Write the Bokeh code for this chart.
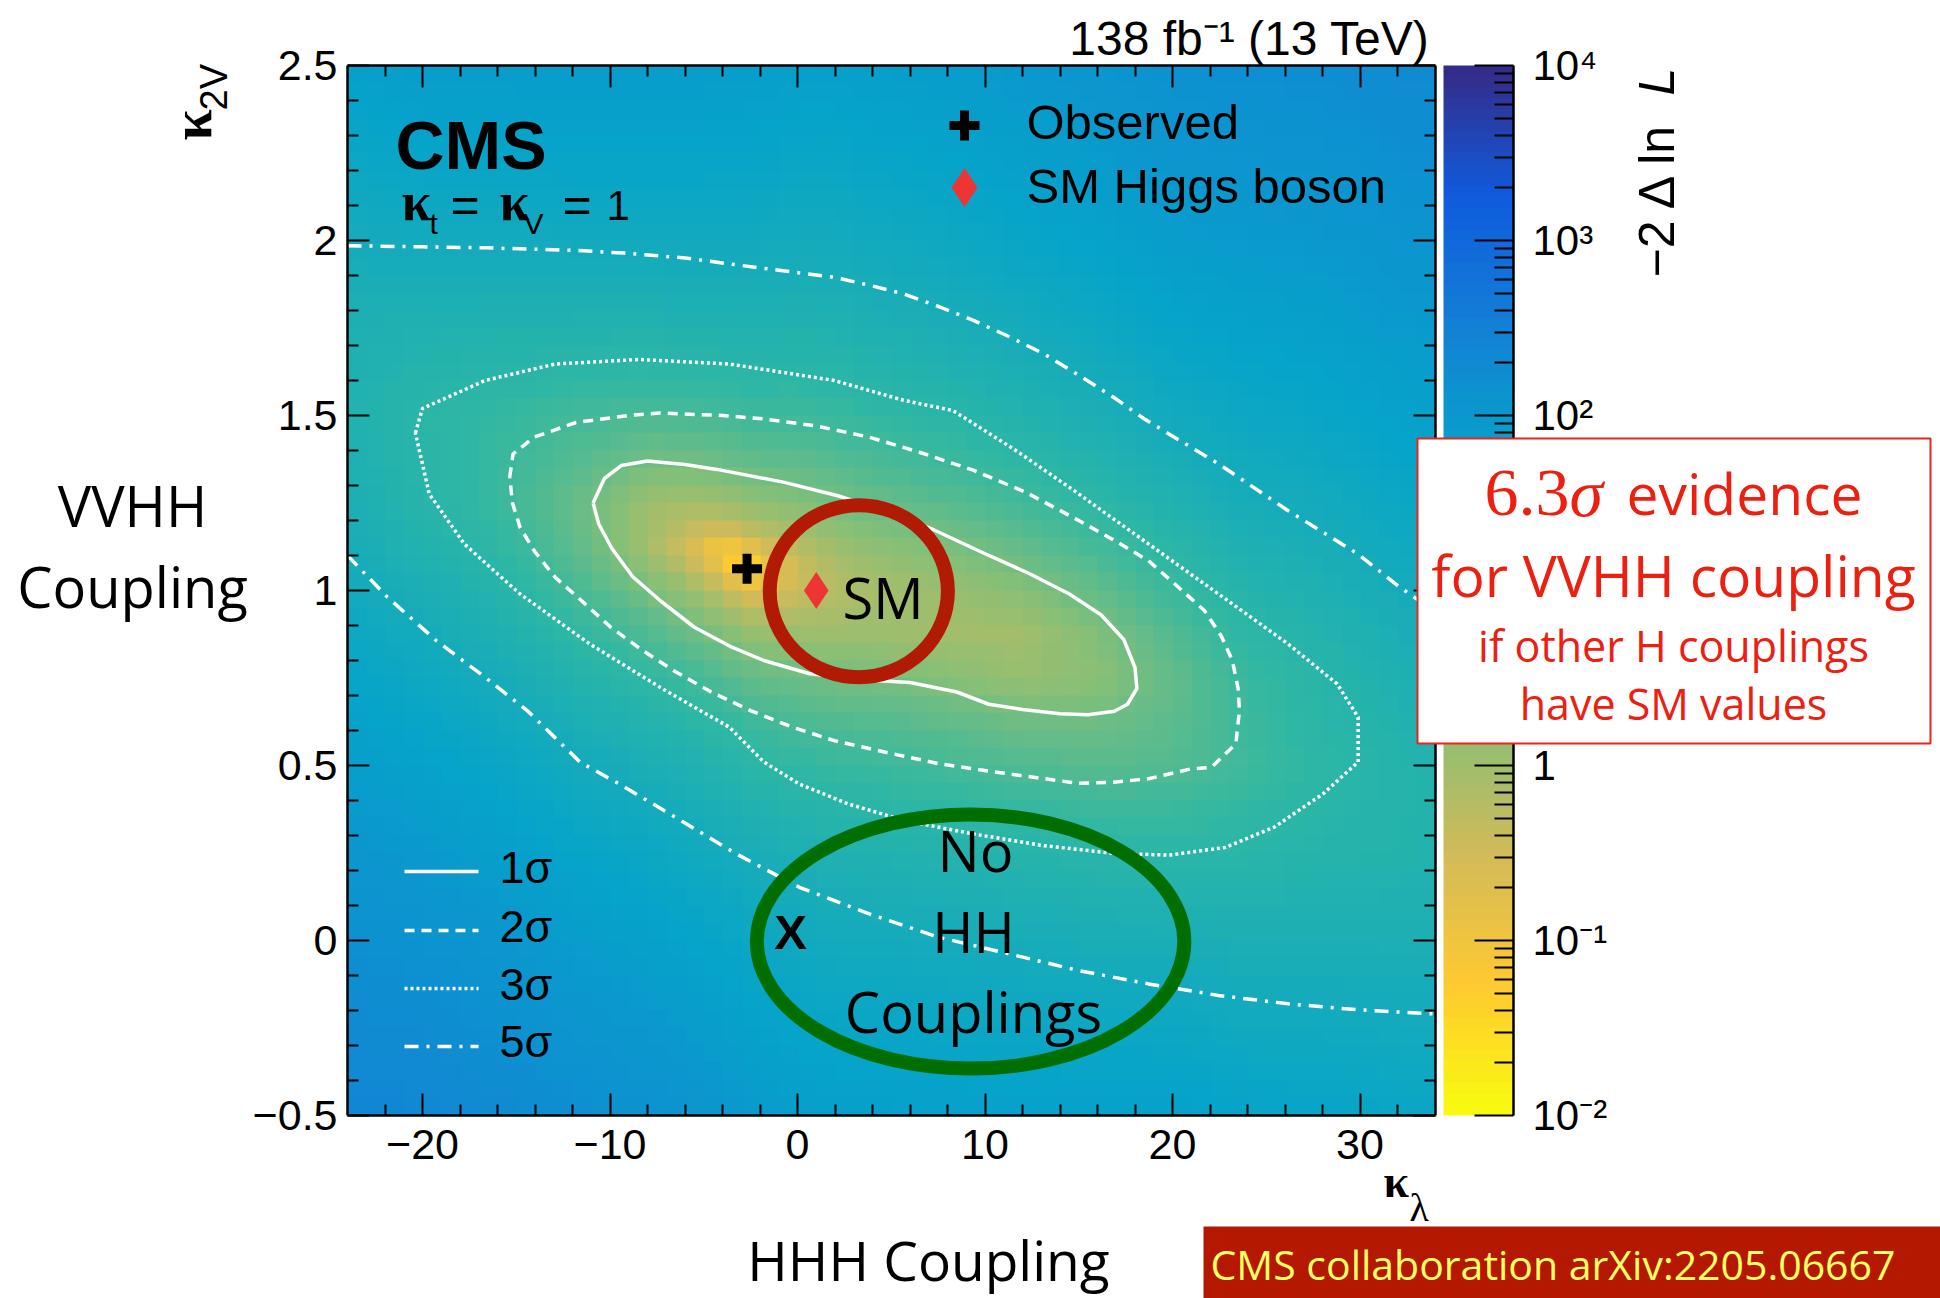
import numpy as np
from bokeh.plotting import figure
from bokeh.models import Range1d, LinearAxis, FixedTicker, CustomJSTickFormatter, LogColorMapper
from bokeh.core.properties import value
from bokeh.embed import file_html
from bokeh.resources import INLINE

# ---------------- data ----------------
kl_nodes = [-24, -20, -16, -12, -8, -6, -4, -3, -2, 0, 2, 4, 8, 12, 16, 20, 24, 28, 32, 36]
k2v_nodes = [-0.5, -0.25, 0, 0.25, 0.5, 0.75, 0.875, 1.0, 1.0625, 1.125, 1.25, 1.5, 1.75, 2.0, 2.25, 2.5]
nll_by_column = [
    [242, 190, 145, 107, 75, 51, 41, 33, 29, 26, 21.5, 17.1, 19.4, 28.4, 44, 67],
    [228, 175, 130, 92, 61, 38, 29, 22, 19, 16, 13, 11.7, 17.7, 31, 52, 80],
    [192, 145, 105, 72, 46, 26.5, 19.4, 13.9, 11.8, 10.1, 8.0, 9.0, 16.7, 31.3, 52.6, 81],
    [155, 114, 80, 52, 31, 15.3, 10, 6.2, 4.9, 4.0, 3.3, 6.7, 16.3, 32.2, 54.3, 82.7],
    [133, 97, 66, 41.5, 22.5, 9.5, 5.2, 2.3, 1.45, 0.94, 1.03, 5.6, 16.1, 32.4, 54.6, 82.7],
    [119, 85, 57.5, 35, 18.3, 7.0, 3.4, 1.16, 0.56, 0.31, 0.83, 6.0, 16.7, 32.8, 54.5, 81.7],
    [102, 73, 48.5, 29, 14.5, 4.95, 2.07, 0.45, 0.106, 0.075, 0.95, 6.45, 17, 32.5, 53, 78.5],
    [94, 66, 43.5, 25.6, 12.4, 3.9, 1.45, 0.2, 0.012, 0.125, 1.24, 7.0, 17.6, 32.9, 52.9, 77.7],
    [86.5, 61, 39.7, 23.1, 10.9, 3.3, 1.15, 0.14, 0.05, 0.25, 1.49, 7.3, 17.7, 32.5, 51.9, 75.7],
    [75.7, 53, 34.6, 20, 9.5, 2.9, 1.12, 0.34, 0.32, 0.56, 1.78, 7.2, 16.7, 30.1, 47.5, 69],
    [68, 47.5, 30.6, 17.5, 8.1, 2.5, 1.07, 0.6, 0.72, 1.07, 2.5, 8.1, 17.5, 30.6, 47.5, 68],
    [68, 47.3, 30.3, 17.1, 7.8, 2.4, 1.11, 0.82, 1.04, 1.5, 3.1, 9.3, 19.4, 33.4, 51.2, 72.9],
    [65, 44.3, 27.7, 15.1, 6.4, 1.77, 0.95, 1.13, 1.6, 2.3, 4.5, 11.9, 23.2, 38.6, 57.9, 81.3],
    [64.2, 42.9, 25.9, 13.3, 5.1, 1.22, 0.93, 1.74, 2.56, 3.64, 6.64, 15.9, 29.6, 47.6, 70, 96.8],
    [63, 41, 24, 11.9, 4.4, 1.6, 2.0, 3.6, 4.85, 6.4, 10.4, 21.9, 38.1, 59.1, 84.8, 115],
    [63, 40.5, 23.2, 11.3, 4.7, 3.5, 4.9, 7.7, 9.6, 11.8, 17.3, 32.2, 52.5, 78.2, 109, 146],
    [53.7, 34.6, 21.1, 11.9, 7.3, 8.3, 10.7, 14.4, 16.8, 19.5, 25.9, 40.9, 61.8, 87.6, 118.6, 154],
    [52, 34.3, 21.6, 13.7, 10.6, 12.5, 15.2, 19.2, 21.7, 24.4, 30.8, 47.3, 68.6, 95, 126, 162],
    [47, 31.4, 20.7, 15, 14.3, 18.6, 22.6, 27.9, 31, 34.4, 42.2, 61.5, 85.8, 115, 149, 189],
    [46, 31.4, 21.9, 17.4, 17.9, 23.4, 28, 33.9, 37.3, 41, 49.4, 69.9, 95.4, 126, 161, 202],
]

observed = [-2.69, 1.062]
sm_point = [1.0, 1.0]

c1_x = [-10.9, -10.3, -9.4, -8.0, -6.0, -4.3, -0.7, 2.2, 5.0, 7.2, 9.8, 12.3, 14.5, 16.2, 17.4, 18.0, 18.1,
        17.6, 16.9, 15.5, 14.0, 12.0, 10.2, 8.5, 6.0, 3.4, 0.6, -1.8, -3.5, -5.5, -7.3, -8.8, -9.9, -10.6, -10.9]
c1_y = [1.25, 1.32, 1.357, 1.37, 1.36, 1.346, 1.309, 1.27, 1.22, 1.175, 1.11, 1.05, 0.99, 0.93, 0.86, 0.78, 0.72,
        0.675, 0.655, 0.645, 0.648, 0.66, 0.675, 0.71, 0.737, 0.745, 0.763, 0.80, 0.838, 0.895, 0.97, 1.04, 1.12, 1.19, 1.25]
c2_x = [-15.35, -15.17, -14.05, -11.82, -9.0, -7.35, -4.0, -1.76, 1.0, 3.83, 6.5, 9.41, 12.2, 15.0, 17.0, 18.72,
        20.3, 21.7, 22.6, 23.19, 23.5, 23.57, 23.38, 22.08, 20.96, 18.72, 16.8, 15.0, 13.2, 11.27, 9.4, 7.55, 4.7,
        1.96, -0.3, -2.51, -4.6, -6.6, -8.3, -9.96, -11.5, -12.93, -14.0, -14.8, -15.2, -15.35]
c2_y = [1.324, 1.39, 1.438, 1.48, 1.50, 1.507, 1.50, 1.49, 1.47, 1.438, 1.395, 1.343, 1.28, 1.20, 1.14, 1.085,
        1.01, 0.943, 0.87, 0.80, 0.72, 0.657, 0.562, 0.495, 0.49, 0.462, 0.452, 0.449, 0.462, 0.476, 0.49, 0.505, 0.538,
        0.571, 0.61, 0.657, 0.71, 0.771, 0.83, 0.895, 0.97, 1.038, 1.11, 1.181, 1.25, 1.324]
c3_x = [-20.38, -20.0, -16.66, -12.93, -8.46, -3.62, 1.96, 5.69, 8.3, 11.65, 15.0, 18.72, 22.45, 26.17, 28.78,
        29.9, 29.9, 28.03, 25.43, 22.82, 19.84, 16.86, 13.14, 9.41, 5.69, 2.71, 0.1, -1.8, -3.62, -7.35, -11.07,
        -14.8, -17.77, -19.64, -20.38]
c3_y = [1.45, 1.52, 1.60, 1.647, 1.66, 1.647, 1.60, 1.543, 1.514, 1.40, 1.276, 1.133, 0.99, 0.847, 0.733,
        0.638, 0.51, 0.419, 0.324, 0.266, 0.244, 0.249, 0.271, 0.304, 0.343, 0.39, 0.447, 0.51, 0.609, 0.724, 0.847,
        0.99, 1.133, 1.276, 1.45]
c5u_x = [-24, -20, -16.66, -12, -9.21, -6, -3.62, -1, 1.96, 4, 5.69, 7.6, 9.41, 11.3, 13.14, 15.0, 16.86, 18.5,
         22.45, 26.17, 29.9, 32.13, 34]
c5u_y = [1.985, 1.982, 1.979, 1.972, 1.964, 1.95, 1.933, 1.915, 1.895, 1.87, 1.847, 1.81, 1.771, 1.725, 1.676,
         1.615, 1.552, 1.49, 1.362, 1.228, 1.104, 1.009, 0.94]
c5l_x = [-24, -21.87, -19.27, -16.66, -14.42, -11.6, -9.21, -6.23, -3.25, 0.1, 3.83, 7.55, 11.27, 15.0, 18.72,
         22.45, 26.17, 29.9, 34]
c5l_y = [1.10, 0.981, 0.857, 0.752, 0.657, 0.51, 0.438, 0.343, 0.247, 0.152, 0.076, 0.009, -0.038, -0.086,
         -0.124, -0.157, -0.181, -0.198, -0.21]

x_major = [-20, -10, 0, 10, 20, 30]
x_minor = [-22, -18, -16, -14, -12, -8, -6, -4, -2, 2, 4, 6, 8, 12, 14, 16, 18, 22, 24, 26, 28, 32]
y_major = [-0.5, 0, 0.5, 1, 1.5, 2, 2.5]
y_minor = [-0.4, -0.3, -0.2, -0.1, 0.1, 0.2, 0.3, 0.4, 0.6, 0.7, 0.8, 0.9, 1.1, 1.2, 1.3, 1.4,
           1.6, 1.7, 1.8, 1.9, 2.1, 2.2, 2.3, 2.4]
cb_exponents = [-2, -1, 0, 1, 2, 3, 4]

sm_ring = [3.27, 0.998, 9.5, 0.491]
no_hh_ring = [9.23, -0.003, 22.8, 0.726]

# ---------------- page geometry ----------------
W, H = 1940, 1298
def X(px):
    return -24 + (px - 347) / 18.75
def Y(py):
    return 2.5 - (py - 65) / 350.0
def CB(py):
    return 4 - (py - 65) / 175.0

p = figure(width=W, height=H, x_range=Range1d(X(0), X(W)), y_range=Range1d(Y(H), Y(0)),
           x_axis_location=None, y_axis_location=None, toolbar_location=None, output_backend="svg",
           min_border=0, outline_line_color=None, background_fill_color="white", border_fill_color="white")
p.extra_y_ranges = {"cb": Range1d(CB(H), CB(0))}
for g in p.grid:
    g.visible = False

bird_r = [0.2082, 0.0592, 0.0780, 0.0232, 0.1802, 0.5301, 0.8186, 0.9956, 0.9764]
bird_g = [0.1664, 0.3599, 0.5041, 0.6419, 0.7178, 0.7492, 0.7328, 0.7862, 0.9832]
bird_b = [0.5293, 0.8684, 0.8385, 0.7914, 0.6425, 0.4662, 0.3499, 0.1968, 0.0539]
stops = np.linspace(0, 1, 9)
pal = []
for v in np.linspace(0, 1, 255):
    rgb = [int(round(255 * np.interp(v, stops, c))) for c in (bird_r, bird_g, bird_b)]
    pal.append("#%02x%02x%02x" % tuple(rgb))
pal = pal[::-1]
mapper = LogColorMapper(palette=pal, low=0.01, high=1e4)

xn = np.array(kl_nodes, float)
yn = np.array(k2v_nodes, float)
S = np.sqrt(np.array(nll_by_column, float))
xc = -23.5 + np.arange(58) * 1.0
yc = -0.475 + np.arange(60) * 0.05
tmp = np.array([np.interp(yc, yn, S[i]) for i in range(len(xn))])
fine = np.array([np.interp(xc, xn, tmp[:, j]) for j in range(len(yc))])
img = np.clip(fine ** 2, 0.0101, 9999.0)
p.image(image=[img], x=-24, y=-0.5, dw=58, dh=3, color_mapper=mapper)

N = 96
cb_img = (10 ** (-2 + (np.arange(N) + 0.5) * 6.0 / N)).reshape(N, 1)
p.image(image=[cb_img], x=X(1443), y=-2, dw=X(1513) - X(1443), dh=6, y_range_name="cb", color_mapper=mapper)

p.line(c1_x, c1_y, line_color="white", line_width=3.5)
p.line(c2_x, c2_y, line_color="white", line_width=3.5, line_dash="10 7")
p.line(c3_x, c3_y, line_color="white", line_width=3.5, line_dash="3 3")
p.line(c5u_x, c5u_y, line_color="white", line_width=3.5, line_dash="14 8 3 8")
p.line(c5l_x, c5l_y, line_color="white", line_width=3.5, line_dash="14 8 3 8")

p.scatter([observed[0]], [observed[1]], marker="cross", size=30, line_color="black", line_width=9)
p.scatter([sm_point[0]], [sm_point[1]], marker="diamond", size=37, fill_color="#EE3535", line_color=None)

minus_code = "return tick < 0 ? '\u2212' + String(-tick) : String(tick);"
blank_code = "return '';"

def make_axis(loc, bounds, ticks, minors, code, tin, tmin, standoff=8, yname=None, size="43px"):
    kw = dict(fixed_location=loc, bounds=bounds,
              ticker=FixedTicker(ticks=ticks, minor_ticks=minors),
              formatter=CustomJSTickFormatter(code=code),
              major_tick_in=tin, major_tick_out=0, minor_tick_in=tmin, minor_tick_out=0,
              axis_line_width=2.5, axis_line_color="black", major_tick_line_width=2, minor_tick_line_width=2,
              major_label_text_font="Liberation Sans", major_label_text_font_size=size,
              major_label_text_color="black", major_label_standoff=standoff)
    if yname:
        kw["y_range_name"] = yname
    return LinearAxis(**kw)

p.add_layout(make_axis(-0.5, (-24, 34), x_major, x_minor, minus_code, 22, 11, standoff=14), "below")
p.add_layout(make_axis(2.5, (-24, 34), x_major, x_minor, blank_code, 22, 11, standoff=0), "above")
p.add_layout(make_axis(-24, (-0.5, 2.5), y_major, y_minor, minus_code, 22, 11, standoff=10), "left")
p.add_layout(make_axis(34, (-0.5, 2.5), y_major, y_minor, blank_code, 22, 11, standoff=0), "right")

cb_minor = [float(np.log10(k) + d) for d in range(-2, 4) for k in range(2, 10)]
cb_code = """
const t = Math.round(tick);
const sup = {'-2': '\u207b\u00b2', '-1': '\u207b\u00b9', '2': '\u00b2', '3': '\u00b3', '4': '\u2074'};
if (t === 0) return '1';
if (t === 1) return '10';
return '10' + sup[String(t)];
"""
p.add_layout(make_axis(X(1513), (-2, 4), cb_exponents, cb_minor, cb_code, 39, 19, standoff=19, yname="cb",
                       size="42px"), "right")

p.ellipse(x=[sm_ring[0]], y=[sm_ring[1]], width=[sm_ring[2]], height=[sm_ring[3]],
          fill_color=None, line_color="#B11A05", line_width=14)
p.ellipse(x=[no_hh_ring[0]], y=[no_hh_ring[1]], width=[no_hh_ring[2]], height=[no_hh_ring[3]],
          fill_color=None, line_color="#006E00", line_width=14)

SERIF = "Liberation Serif"
SANS = "Liberation Sans"
OS = "Open Sans"
R90 = np.pi / 2
# distance from the alphabetic baseline to the centre of each font's ascent/descent box (in em)
MID = {SANS: 0.3465, OS: 0.388, SERIF: 0.3375}

def txt(px, py, s, size, font=SANS, align="left", color="black", style="normal", rot=False, level="glyph"):
    """px, py: page position of the start (or centre) of the text on its baseline."""
    shift = MID[font] * size
    if rot:
        ax, ay, ang = X(px - shift), Y(py), R90
    else:
        ax, ay, ang = X(px), Y(py - shift), 0.0
    return p.text(x=[ax], y=[ay], text=[s], text_font=value(font), text_font_size="%dpx" % size,
                  text_align=align, text_baseline="middle", text_color=color, text_font_style=style,
                  angle=ang, level=level)

txt(1429, 55, "138 fb\u207b\u00b9 (13 TeV)", 48, align="right")
txt(395, 168, "CMS", 68, style="bold")
txt(401, 220, "\u03ba", 54, font=SERIF, style="bold")
txt(429, 233, "t", 30)
txt(450, 222, "=", 50)
txt(499, 220, "\u03ba", 54, font=SERIF, style="bold")
txt(523, 233, "V", 30)
txt(562, 222, "=", 50)
txt(606, 220, "1", 42)

p.line([X(404), X(478)], [Y(871), Y(871)], line_color="white", line_width=3.5)
p.line([X(404), X(478)], [Y(930), Y(930)], line_color="white", line_width=3.5, line_dash="10 7")
p.line([X(404), X(478)], [Y(988), Y(988)], line_color="white", line_width=3.5, line_dash="3 3")
p.line([X(404), X(478)], [Y(1046), Y(1046)], line_color="white", line_width=3.5, line_dash="14 8 3 8")
txt(499, 883, "1\u03c3", 45)
txt(499, 942, "2\u03c3", 45)
txt(499, 1000, "3\u03c3", 45)
txt(499, 1057, "5\u03c3", 45)

p.scatter([X(964)], [Y(125)], marker="cross", size=30, line_color="black", line_width=9)
p.scatter([X(964)], [Y(187)], marker="diamond", size=39, fill_color="#EE3535", line_color=None)
txt(1026, 138, "Observed", 49)
txt(1026, 202, "SM Higgs boson", 49)

txt(1383, 1197, "\u03ba", 46, font=SERIF, style="bold")
txt(1409, 1220, "\u03bb", 40, font=SERIF)
txt(210, 140, "\u03ba", 56, font=SERIF, style="bold", rot=True)
txt(227, 110, "2V", 38, rot=True)
txt(1674, 277, "\u22122 \u0394 ln", 50, rot=True)
txt(1674, 95, "L", 50, style="italic", rot=True)

txt(132, 526, "VVHH", 56, font=OS, align="center")
txt(132, 607, "Coupling", 56, font=OS, align="center")
txt(928, 1280, "HHH Coupling", 55, font=OS, align="center")
txt(842, 618, "SM", 56, font=OS)
txt(975, 871, "No", 56, font=OS, align="center")
txt(973, 952, "HH", 56, font=OS, align="center")
txt(973, 1032, "Couplings", 56, font=OS, align="center")
txt(790, 948, "X", 49, style="bold", align="center")

RED = "#EC2010"
p.quad(left=[X(1417)], right=[X(1930)], top=[Y(438)], bottom=[Y(743)], fill_color="white",
       line_color="#E8251A", line_width=2, level="overlay")
txt(1484, 515, "6.3", 68, font=SERIF, color=RED, level="overlay")
txt(1569, 515, "\u03c3", 68, font=SERIF, style="italic", color=RED, level="overlay")
txt(1626, 515, "evidence", 57, font=OS, color=RED, level="overlay")
txt(1673, 597, "for VVHH coupling", 57, font=OS, align="center", color=RED, level="overlay")
txt(1673, 662, "if other H couplings", 43, font=OS, align="center", color=RED, level="overlay")
txt(1673, 720, "have SM values", 43, font=OS, align="center", color=RED, level="overlay")

p.quad(left=[X(1203)], right=[X(1960)], top=[Y(1226)], bottom=[Y(1320)], fill_color="#B41800",
       line_color=None, level="overlay")
txt(1210, 1279, "CMS collaboration arXiv:2205.06667", 41, font=OS, color="#FFFF66", level="overlay")

with open("out.html", "w", encoding="utf-8") as f:
    f.write(file_html(p, INLINE))
